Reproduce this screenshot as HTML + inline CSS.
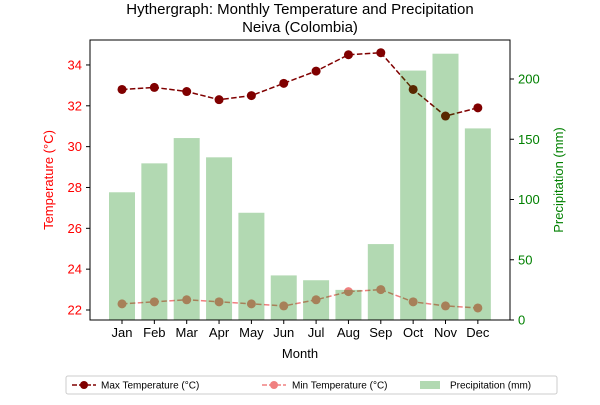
<!DOCTYPE html>
<html><head><meta charset="utf-8"><style>
body{margin:0;background:#fff;}
svg text{font-family:"Liberation Sans","DejaVu Sans",sans-serif;}
</style></head><body>
<svg id="chart" width="600" height="400" viewBox="0 0 600 400" xmlns="http://www.w3.org/2000/svg">
<text x="300" y="14" text-anchor="middle" font-size="15">Hythergraph: Monthly Temperature and Precipitation</text>
<text x="300" y="32" text-anchor="middle" font-size="15">Neiva (Colombia)</text>
<g id="lines"></g><g id="bars"></g><g id="axes"></g>
<rect x="90" y="40" width="420" height="280" fill="none" stroke="#000" stroke-width="1"/>
<text x="300" y="358" text-anchor="middle" font-size="13">Month</text>
<text transform="translate(53,180) rotate(-90)" text-anchor="middle" font-size="13" fill="red">Temperature (°C)</text>
<text transform="translate(563,180) rotate(-90)" text-anchor="middle" font-size="13" fill="green">Precipitation (mm)</text>
<g>
<rect x="66" y="376" width="491" height="18" fill="#fff" stroke="#ccc" rx="2"/>
<g><line x1="72" y1="385" x2="96" y2="385" stroke="#800000" stroke-width="1.5" stroke-dasharray="5,2"/><circle cx="84" cy="385" r="4" fill="#800000"/><text x="101" y="388.5" font-size="10">Max Temperature (°C)</text></g>
<g><line x1="262" y1="385" x2="286" y2="385" stroke="#f08080" stroke-width="1.5" stroke-dasharray="5,2"/><circle cx="274" cy="385" r="4" fill="#f08080"/><text x="292" y="388.5" font-size="10">Min Temperature (°C)</text></g>
<g><rect x="420" y="381" width="20" height="8" fill="#008000" opacity="0.3"/><text x="450" y="388.5" font-size="10">Precipitation (mm)</text></g>
</g>
</svg>
<script>
const months=["Jan","Feb","Mar","Apr","May","Jun","Jul","Aug","Sep","Oct","Nov","Dec"];
const maxTemp=[32.8,32.9,32.7,32.3,32.5,33.1,33.7,34.5,34.6,32.8,31.5,31.9];
const minTemp=[22.3,22.4,22.5,22.4,22.3,22.2,22.5,22.9,23.0,22.4,22.2,22.1];
const precip=[106,130,151,135,89,37,33,25,63,207,221,159];
const tempTicks=[22,24,26,28,30,32,34];
const precipTicks=[0,50,100,150,200];
const NS="http://www.w3.org/2000/svg";
const xS=i=>122+i*32.35;
const yT=v=>310-(v-22)*20.42;
const yP=v=>320-v*1.205;
function mk(t,a,p){const e=document.createElementNS(NS,t);for(const k in a)e.setAttribute(k,a[k]);p.appendChild(e);return e;}
const bars=document.getElementById('bars'),lines=document.getElementById('lines'),axes=document.getElementById('axes');
precip.forEach((v,i)=>{const r=mk('rect',{x:xS(i)-13,y:yP(v),width:26,height:320-yP(v),fill:'#008000',opacity:0.3},bars);

});
function series(arr,col,name){
const pl=mk('polyline',{points:arr.map((v,i)=>xS(i)+','+yT(v)).join(' '),fill:'none',stroke:col,'stroke-width':1.5,'stroke-dasharray':'5.5,2.4'},lines);


arr.forEach((v,i)=>{const c=mk('circle',{cx:xS(i),cy:yT(v),r:4.5,fill:col},lines);

});}
series(minTemp,'#f08080','min-temp');
series(maxTemp,'#800000','max-temp');
months.forEach((m,i)=>{mk('line',{x1:xS(i),x2:xS(i),y1:320,y2:324,stroke:'#000'},axes);
const t=mk('text',{x:xS(i),y:337,'text-anchor':'middle','font-size':13},axes);t.textContent=m;

});
tempTicks.forEach(v=>{mk('line',{x1:86,x2:90,y1:yT(v),y2:yT(v),stroke:'#000'},axes);
const t=mk('text',{x:82,y:yT(v)+4.5,'text-anchor':'end','font-size':13,fill:'red'},axes);t.textContent=v;

});
precipTicks.forEach(v=>{mk('line',{x1:510,x2:514,y1:yP(v),y2:yP(v),stroke:'#000'},axes);
const t=mk('text',{x:518,y:yP(v)+4.5,'font-size':13,fill:'green'},axes);t.textContent=v;

});
</script>
</body></html>
